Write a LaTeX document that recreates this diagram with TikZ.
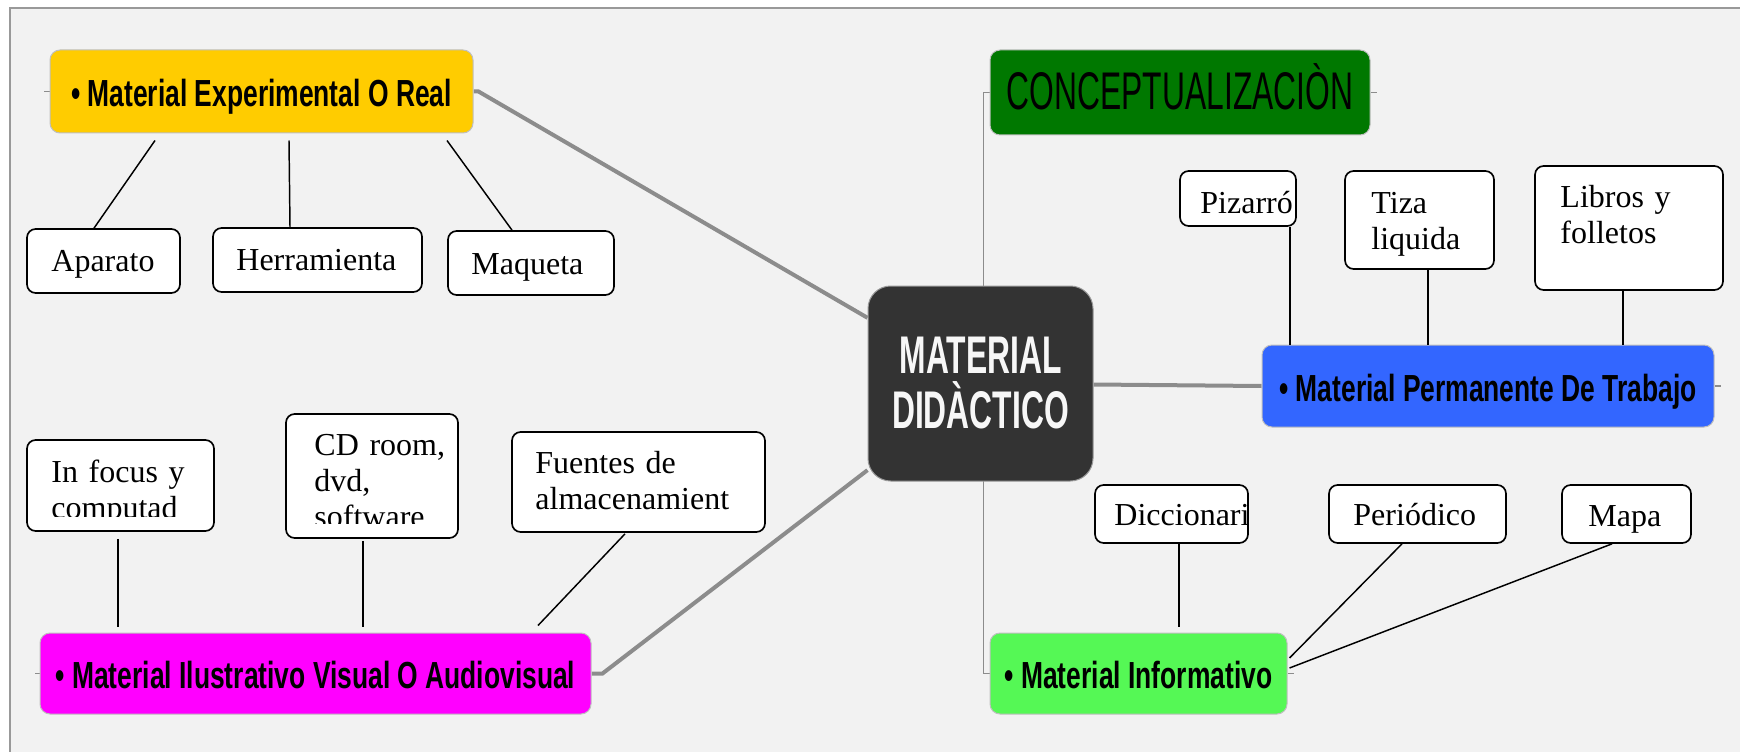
\documentclass[tikz,border=0pt]{standalone}
\usepackage{fontspec}
\setmainfont{Liberation Serif}
\newfontfamily\hubfont[FakeStretch=0.70]{Liberation Sans}
\newfontfamily\titlefont[FakeStretch=0.60]{Liberation Sans}
\usetikzlibrary{calc}

\definecolor{paper}{HTML}{F2F2F2}
\definecolor{branchgray}{HTML}{8C8C8C}
\definecolor{realyellow}{HTML}{FFCC00}
\definecolor{conceptgreen}{HTML}{007800}
\definecolor{coredark}{HTML}{333333}
\definecolor{workblue}{HTML}{3366FF}
\definecolor{visualpink}{HTML}{FF00FF}
\definecolor{infogreen}{HTML}{55F855}

\pgfdeclarelayer{links}
\pgfsetlayers{links,main}

\begin{document}
\begin{tikzpicture}[x=0.75pt,y=0.75pt,yscale=-1,xscale=1,
  hub/.style={rounded corners=7.5pt, draw=black!25, line width=0.75pt, inner sep=0pt,
    text height=22.5pt, text depth=0pt, font=\hubfont\bfseries\fontsize{28.3pt}{30pt}\selectfont},
  leaf/.style={rounded corners=6.5pt, draw=black, fill=white, line width=1.25pt, inner sep=0pt},
  leaftext/.style={anchor=base west, inner sep=0pt, text width=165pt, align=left,
    font=\fontsize{24pt}{27pt}\selectfont},
  branch/.style={draw=branchgray, line width=3pt},
  thinbranch/.style={draw=branchgray, line width=1.4pt},
  twig/.style={draw=black, line width=1.1pt}
]
\useasboundingbox (0,0) rectangle (1740,752);

%Paper
\begin{pgfonlayer}{links}
\fill[white] (0,0) rectangle (1740,752);
\fill[paper] (10,8) rectangle (1740,752);
\draw[black!40, line width=1pt] (10,752) -- (10,8) -- (1740,8);
\end{pgfonlayer}

%Main topic
\node[rounded corners=17pt, fill=coredark, draw=black!40, line width=0.75pt, inner sep=0pt,
  minimum width=168.75pt, minimum height=146.25pt, align=center, text=white!97!black,
  font=\titlefont\bfseries\fontsize{39.75pt}{41.25pt}\selectfont]
  (didactico) at (980.5,383.5) {MATERIAL\\DIDÀCTICO};

%Subtopics
\node[hub, fill=realyellow, minimum width=317.25pt, minimum height=62.25pt]
  (expreal) at (261.5,91.5) {• Material Experimental O Real};
\node[hub, fill=conceptgreen, minimum width=285pt, minimum height=63.75pt, text height=26.25pt,
  font=\titlefont\fontsize{39.75pt}{42pt}\selectfont]
  (concepto) at (1180,92.5) {CONCEPTUALIZACIÒN};
\node[hub, fill=workblue, minimum width=339pt, minimum height=61.5pt]
  (permanente) at (1488,386) {• Material Permanente De Trabajo};
\node[hub, fill=visualpink, minimum width=413.25pt, minimum height=60.75pt]
  (ilustrativo) at (315.5,673.5) {• Material Ilustrativo Visual O Audiovisual};
\node[hub, fill=infogreen, minimum width=222.75pt, minimum height=60.75pt]
  (informativo) at (1138.5,673.5) {• Material Informativo};

%Branches
\begin{pgfonlayer}{links}
\draw[branch] (expreal.east) -- ++(5,0) -- (didactico);
\draw[thinbranch] ($(didactico)+(3,0)$) |- (concepto.west);
\draw[branch] (didactico) -- (permanente.west);
\draw[branch] (ilustrativo.east) -- ++(11,0) -- (didactico);
\draw[thinbranch] ($(didactico)+(3,0)$) |- (informativo.west);
\draw[thinbranch] (expreal.west) -- ++(-6,0);
\draw[thinbranch] (concepto.east) -- ++(6,0);
\draw[thinbranch] (permanente.east) -- ++(6,0);
\draw[thinbranch] (ilustrativo.west) -- ++(-5,0);
\draw[thinbranch] (informativo.east) -- ++(6,0);
\end{pgfonlayer}

%Leaves: experimental
\node[leaf, minimum width=114.75pt, minimum height=48pt] (aparato) at (103.5,261) {};
\node[leaftext] (aparato-t) at ($(aparato.north west)+(25,43)$) {Aparato};
\node[leaf, minimum width=156.75pt, minimum height=48pt] (herramienta) at (317.5,260) {};
\node[leaftext] (herramienta-t) at ($(herramienta.north west)+(24,43)$) {Herramienta};
\node[leaf, minimum width=124.5pt, minimum height=48pt] (maqueta) at (531,263) {};
\node[leaftext] (maqueta-t) at ($(maqueta.north west)+(24,44)$) {Maqueta};

%Leaves: permanente
\node[leaf, minimum width=87pt, minimum height=41.25pt] (pizarro) at (1238,198.5) {};
\node[leaftext] (pizarro-t) at ($(pizarro.north west)+(21,43)$) {Pizarró};
\node[leaf, minimum width=111.75pt, minimum height=73.5pt] (tiza) at (1419.5,220) {};
\node[leaftext] (tiza-t) at ($(tiza.north west)+(27,43)$) {Tiza\\liquida};
\node[leaf, minimum width=141pt, minimum height=93pt] (libros) at (1629,228) {};
\node[leaftext] (libros-t) at ($(libros.north west)+(26,42)$) {Libros y\\folletos};

%Leaves: ilustrativo
\node[leaf, minimum width=140.25pt, minimum height=68.25pt] (focus) at (120.5,485.5) {};
\begin{scope}
\clip ($(focus.north west)+(2,2)$) rectangle ($(focus.south east)+(-2,-15)$);
\node[leaftext] (focus-t) at ($(focus.north west)+(25,43)$) {In focus y\\computad};
\end{scope}
\node[leaf, minimum width=129pt, minimum height=93pt] (cdroom) at (372,476) {};
\begin{scope}
\clip ($(cdroom.north west)+(2,2)$) rectangle ($(cdroom.south east)+(-2,-15)$);
\node[leaftext] (cdroom-t) at ($(cdroom.north west)+(29,42)$) {CD room,\\dvd,\\software};
\end{scope}
\node[leaf, minimum width=189.75pt, minimum height=75pt] (fuentes) at (638.5,482) {};
\node[leaftext] (fuentes-t) at ($(fuentes.north west)+(24,42)$) {Fuentes de\\almacenamient};

%Leaves: informativo
\node[leaf, minimum width=114.75pt, minimum height=43.5pt] (diccionari) at (1171.5,514) {};
\node[leaftext] (diccionari-t) at ($(diccionari.north west)+(20,41)$) {Diccionari};
\node[leaf, minimum width=132.75pt, minimum height=43.5pt] (periodico) at (1417.5,514) {};
\node[leaftext] (periodico-t) at ($(periodico.north west)+(25,41)$) {Periódico};
\node[leaf, minimum width=96.75pt, minimum height=43.5pt] (mapa) at (1626.5,514) {};
\node[leaftext] (mapa-t) at ($(mapa.north west)+(27,42)$) {Mapa};

%Twigs
\draw[twig] ($(expreal.south)+(-106.5,7)$) -- ($(aparato.north)+(-9.5,0)$);
\draw[twig] ($(expreal.south)+(27.5,7)$) -- ($(herramienta.north)+(-27.5,0)$);
\draw[twig] ($(expreal.south)+(185.5,7)$) -- ($(maqueta.north)+(-19,0)$);
\draw[twig] ($(pizarro.south)+(52,0)$) -- ($(permanente.north)+(-198,0)$);
\draw[twig] ($(tiza.south)+(8.5,0)$) -- ($(permanente.north)+(-60,0)$);
\draw[twig] ($(libros.south)+(-6,0)$) -- ($(permanente.north)+(135,0)$);
\draw[twig] ($(focus.south)+(-2.5,7)$) -- ($(ilustrativo.north)+(-197.5,-6)$);
\draw[twig] ($(cdroom.south)+(-9,2)$) -- ($(ilustrativo.north)+(47.5,-6)$);
\draw[twig] ($(fuentes.south)+(-13.5,1)$) -- ($(ilustrativo.north)+(222.5,-7)$);
\draw[twig] ($(diccionari.south)+(7.5,0)$) -- ($(informativo.north)+(40.5,-6)$);
\draw[twig] ($(periodico.south)+(-15.5,0)$) -- ($(informativo.east)+(2,-15.5)$);
\draw[twig] ($(mapa.south)+(-14.5,0)$) -- ($(informativo.east)+(2,-5.5)$);

\end{tikzpicture}
\end{document}
